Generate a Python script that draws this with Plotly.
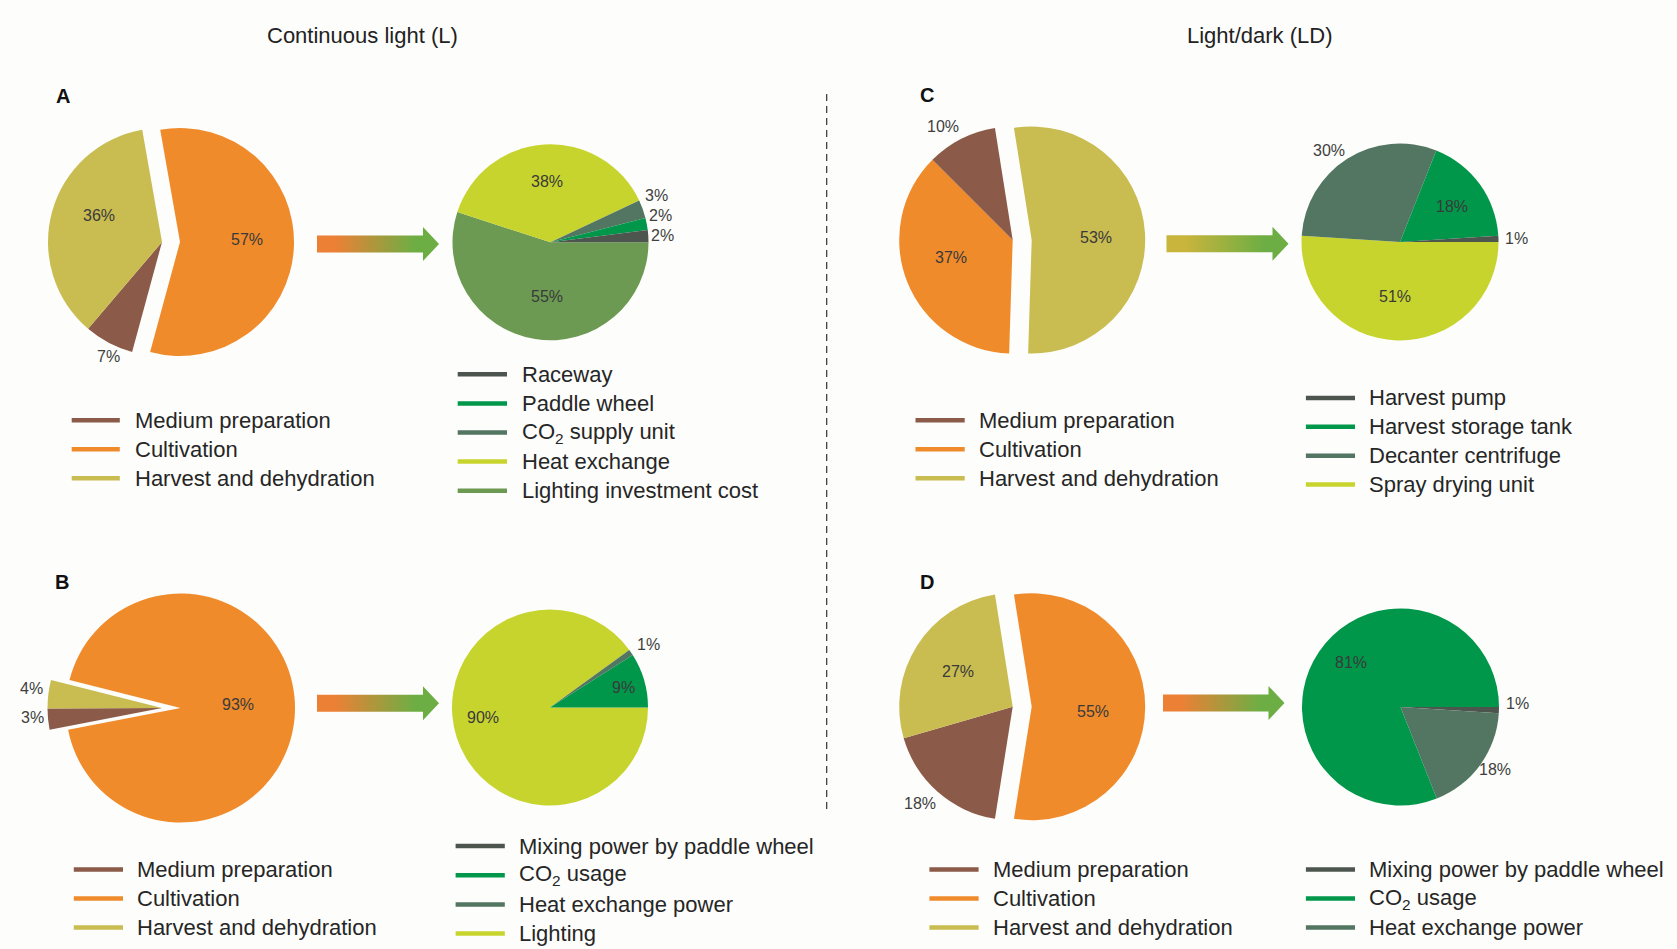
import math
import plotly.graph_objects as go

W, H = 1677, 949

# ---------------- cost shares (%) ----------------
# Continuous light (L): A = capital cost, B = operating cost
A_stage_labels = ["Cultivation", "Medium preparation", "Harvest and dehydration"]
A_stage_values = [57, 7, 36]
A_cult_labels = ["Lighting investment cost", "Heat exchange",
                 "CO<sub>2</sub> supply unit", "Paddle wheel", "Raceway"]
A_cult_values = [55, 38, 3, 2, 2]

B_stage_labels = ["Medium preparation", "Harvest and dehydration", "Cultivation"]
B_stage_values = [3, 4, 93]
B_cult_labels = ["Lighting", "Heat exchange power", "CO<sub>2</sub> usage",
                 "Mixing power by paddle wheel"]
B_cult_values = [90, 1, 9, 0]

# Light/dark (LD): C = capital cost, D = operating cost
C_stage_labels = ["Harvest and dehydration", "Cultivation", "Medium preparation"]
C_stage_values = [53, 37, 10]
C_harv_labels = ["Spray drying unit", "Decanter centrifuge",
                 "Harvest storage tank", "Harvest pump"]
C_harv_values = [51, 30, 18, 1]

D_stage_labels = ["Cultivation", "Medium preparation", "Harvest and dehydration"]
D_stage_values = [55, 18, 27]
D_cult_labels = ["Mixing power by paddle wheel", "Heat exchange power",
                 "CO<sub>2</sub> usage"]
D_cult_values = [1, 18, 81]

# legend entries, top to bottom
stage_legend = ["Medium preparation", "Cultivation", "Harvest and dehydration"]
A_legend = ["Raceway", "Paddle wheel", "CO<sub>2</sub> supply unit",
            "Heat exchange", "Lighting investment cost"]
B_legend = ["Mixing power by paddle wheel", "CO<sub>2</sub> usage",
            "Heat exchange power", "Lighting"]
C_legend = ["Harvest pump", "Harvest storage tank", "Decanter centrifuge",
            "Spray drying unit"]
D_legend = ["Mixing power by paddle wheel", "CO<sub>2</sub> usage",
            "Heat exchange power"]

# ---------------- styling ----------------
BG = "#FDFDFB"
FONT = "Liberation Sans, Arial, sans-serif"
BROWN, ORANGE, OLIVE = "#8B5A48", "#F08B2B", "#C9BC51"
DARK, GREEN, SLATE = "#4C554E", "#00974A", "#527662"
YGREEN, LGREEN = "#C8D42E", "#6C9A52"
ARROW_GREEN = "#6DAE44"

colors = {
    "Medium preparation": BROWN, "Cultivation": ORANGE,
    "Harvest and dehydration": OLIVE,
    "Raceway": DARK, "Paddle wheel": GREEN, "CO<sub>2</sub> supply unit": SLATE,
    "Heat exchange": YGREEN, "Lighting investment cost": LGREEN,
    "Mixing power by paddle wheel": DARK, "CO<sub>2</sub> usage": GREEN,
    "Heat exchange power": SLATE, "Lighting": YGREEN,
    "Harvest pump": DARK, "Harvest storage tank": GREEN,
    "Decanter centrifuge": SLATE, "Spray drying unit": YGREEN,
}

LABEL_SIZE = 16
OUT_GAP = 2
STACK_GAP = 20

# Pie geometry in pixels.
#   inner: slices labelled inside -> (radius fraction, angle offset in deg)
#   outer: optional tweaks for outside labels -> (angle offset, extra distance)
pie_specs = [
    dict(labels=A_stage_labels, values=A_stage_values, cx=180, cy=242, r=114,
         rot=-10, group=["Medium preparation", "Harvest and dehydration"], shift=-18,
         inner={"Cultivation": (0.59, -4.5), "Harvest and dehydration": (0.6, 8)},
         outer={"Medium preparation": (-3, 0.5)}),
    dict(labels=A_cult_labels, values=A_cult_values, cx=550.5, cy=242.3, r=98,
         rot=90, inner={"Lighting investment cost": (0.55, -5), "Heat exchange": (0.62, 0)},
         outer={}),
    dict(labels=B_stage_labels, values=B_stage_values, cx=180.5, cy=708, r=114.5,
         rot=259, group=["Medium preparation", "Harvest and dehydration"], shift=-18.5,
         inner={"Cultivation": (0.5, -4.8)},
         outer={"Harvest and dehydration": (1.7, 3), "Medium preparation": (1.2, 1.7)}),
    dict(labels=B_cult_labels, values=B_cult_values, cx=550, cy=707.5, r=98,
         rot=90, inner={"Lighting": (0.69, 9.4), "CO<sub>2</sub> usage": (0.78, 1)},
         outer={"Heat exchange power": (1.7, 3.6)}),
    dict(labels=C_stage_labels, values=C_stage_values, cx=1031.7, cy=240, r=113.5,
         rot=-9, group=["Cultivation", "Medium preparation"], shift=-19,
         inner={"Harvest and dehydration": (0.57, 1.3), "Cultivation": (0.563, 5.5)},
         outer={"Medium preparation": (-4.6, 4.5)}),
    dict(labels=C_harv_labels, values=C_harv_values, cx=1400, cy=242, r=98.5,
         rot=90, inner={"Spray drying unit": (0.554, 3.9), "Harvest storage tank": (0.643, 1.8)},
         outer={"Decanter centrifuge": (-5.3, 1.3), "Harvest pump": (0, 4.5)}),
    dict(labels=D_stage_labels, values=D_stage_values, cx=1031.7, cy=706.7, r=113.5,
         rot=-9, group=["Medium preparation", "Harvest and dehydration"], shift=-19,
         inner={"Cultivation": (0.54, 4.2), "Harvest and dehydration": (0.575, 0)},
         outer={"Medium preparation": (2.5, 3.6)}),
    dict(labels=D_cult_labels, values=D_cult_values, cx=1400.5, cy=707, r=98.5,
         rot=90, inner={"CO<sub>2</sub> usage": (0.68, 8)},
         outer={"Mixing power by paddle wheel": (-3.4, 5), "Heat exchange power": (-2.8, -3.6)}),
]

fig = go.Figure()
shapes, annotations = [], []


def domain(cx, cy, r):
    return dict(x=[(cx - r) / W, (cx + r) / W], y=[1 - (cy + r) / H, 1 - (cy - r) / H])


def pie_trace(labels, values, cx, cy, r, rot, shown):
    cols = [colors[l] if l in shown else "rgba(0,0,0,0)" for l in labels]
    return go.Pie(labels=labels, values=values, sort=False, direction="clockwise",
                  rotation=rot, marker=dict(colors=cols, line=dict(width=0)),
                  textinfo="none", hoverinfo="label+percent", showlegend=False,
                  domain=domain(cx, cy, r))


def slice_mids(values, rot):
    total = float(sum(values))
    a, mids = rot, []
    for v in values:
        span = 360.0 * v / total
        mids.append(a + span / 2)
        a += span
    return mids


def label(x, y, text, color="#3A3A3A"):
    annotations.append(dict(x=x, y=y, xref="x", yref="y", text=text, showarrow=False,
                            xanchor="center", yanchor="middle",
                            font=dict(family=FONT, size=LABEL_SIZE, color=color)))


for spec in pie_specs:
    labels = [l for l, v in zip(spec["labels"], spec["values"]) if v > 0]
    values = [v for v in spec["values"] if v > 0]
    group = spec.get("group", [])
    gx = spec["cx"] + spec.get("shift", 0)
    cy, r = spec["cy"], spec["r"]
    main = [l for l in labels if l not in group]
    fig.add_trace(pie_trace(labels, values, spec["cx"], cy, r, spec["rot"], main))
    if group:
        fig.add_trace(pie_trace(labels, values, gx, cy, r, spec["rot"], group))

    outside = []
    for lab, v, mid in zip(labels, values, slice_mids(values, spec["rot"])):
        cx = gx if lab in group else spec["cx"]
        text = f"{v}%"
        if lab in spec["inner"]:
            frac, dang = spec["inner"][lab]
            a = math.radians(mid + dang)
            d = frac * r
            label(cx + d * math.sin(a), cy - d * math.cos(a), text)
        else:
            dang, dd = spec["outer"].get(lab, (0, 0))
            a = math.radians(mid + dang)
            s, c = math.sin(a), math.cos(a)
            w = LABEL_SIZE * (0.556 * (len(text) - 1) + 0.889)
            h = LABEL_SIZE * 0.72
            d = r + OUT_GAP + dd + abs(s) * w / 2 + abs(c) * h / 2
            outside.append([cx + d * s, cy - d * c, text, s >= 0])
    # keep stacked outside labels on one side from overlapping
    for side in (True, False):
        items = sorted([o for o in outside if o[3] == side], key=lambda o: -o[1])
        for prev, cur in zip(items, items[1:]):
            cur[1] = min(cur[1], prev[1] - STACK_GAP)
    for x, y, text, _ in outside:
        label(x, y, text, "#404040")


# gradient arrows between the paired pies
def arrow(x0, x1, yc, c0, c1):
    head_len, shaft_h, head_h = 16, 8.5, 17
    xh = x1 - head_len
    xs = [x0, xh, xh, x1, xh, xh, x0, x0]
    ys = [yc - shaft_h, yc - shaft_h, yc - head_h, yc, yc + head_h,
          yc + shaft_h, yc + shaft_h, yc - shaft_h]
    return go.Scatter(x=xs, y=ys, mode="none", fill="toself",
                      fillgradient=dict(type="horizontal",
                                        colorscale=[[0, c0], [0.15, c0], [0.8, c1], [1, c1]]),
                      hoverinfo="skip", showlegend=False)


fig.add_trace(arrow(317, 439, 244, "#EC8035", ARROW_GREEN))
fig.add_trace(arrow(317, 439, 703.3, "#EC8035", ARROW_GREEN))
fig.add_trace(arrow(1166.5, 1288.5, 243.8, "#C9B43C", ARROW_GREEN))
fig.add_trace(arrow(1163, 1284.5, 703, "#EC8035", ARROW_GREEN))


# line-swatch legends
def legend(items, x0, x1, xt, y0, dy=29.0):
    for i, lab in enumerate(items):
        y = y0 + i * dy
        shapes.append(dict(type="line", xref="x", yref="y", x0=x0, x1=x1, y0=y, y1=y,
                           line=dict(color=colors[lab], width=4.5)))
        annotations.append(dict(x=xt, y=y, xref="x", yref="y", text=lab, showarrow=False,
                                xanchor="left", yanchor="middle",
                                font=dict(family=FONT, size=22, color="#262626")))


legend(stage_legend, 71.7, 119.8, 132.5, 420.3)
legend(A_legend, 457.7, 507, 519.5, 374.3, 29.1)
legend(stage_legend, 915.5, 964.7, 976.5, 420.3)
legend(C_legend, 1305.9, 1355, 1367, 397.9, 28.9)
legend(stage_legend, 73.8, 123, 134.5, 869.5)
legend(B_legend, 455.6, 504.8, 516.5, 846, 29.2)
legend(stage_legend, 929.4, 978.6, 990.5, 869.5)
legend(D_legend, 1305.9, 1355, 1367, 869.5)

# column titles and panel letters
for x, t in [(362.6, "Continuous light (L)"), (1259.9, "Light/dark (LD)")]:
    annotations.append(dict(x=x, y=35.3, xref="x", yref="y", text=t, showarrow=False,
                            xanchor="center", yanchor="middle",
                            font=dict(family=FONT, size=22, color="#222222")))
for x, y, t in [(63, 95.5, "A"), (62, 582, "B"), (926.5, 95, "C"), (926.5, 582, "D")]:
    annotations.append(dict(x=x, y=y, xref="x", yref="y", text=f"<b>{t}</b>",
                            showarrow=False, xanchor="center", yanchor="middle",
                            font=dict(family=FONT, size=20, color="#111111")))

# dashed divider between the two regimes
shapes.append(dict(type="line", xref="x", yref="y", x0=826.7, x1=826.7, y0=94, y1=813,
                   line=dict(color="#333333", width=1.2, dash="7px,5px")))

fig.update_layout(
    width=W, height=H, margin=dict(l=0, r=0, t=0, b=0),
    paper_bgcolor=BG, plot_bgcolor=BG, showlegend=False,
    xaxis=dict(range=[0, W], visible=False, fixedrange=True),
    yaxis=dict(range=[H, 0], visible=False, fixedrange=True),
    shapes=shapes, annotations=annotations,
)

fig.write_html("out.html")
